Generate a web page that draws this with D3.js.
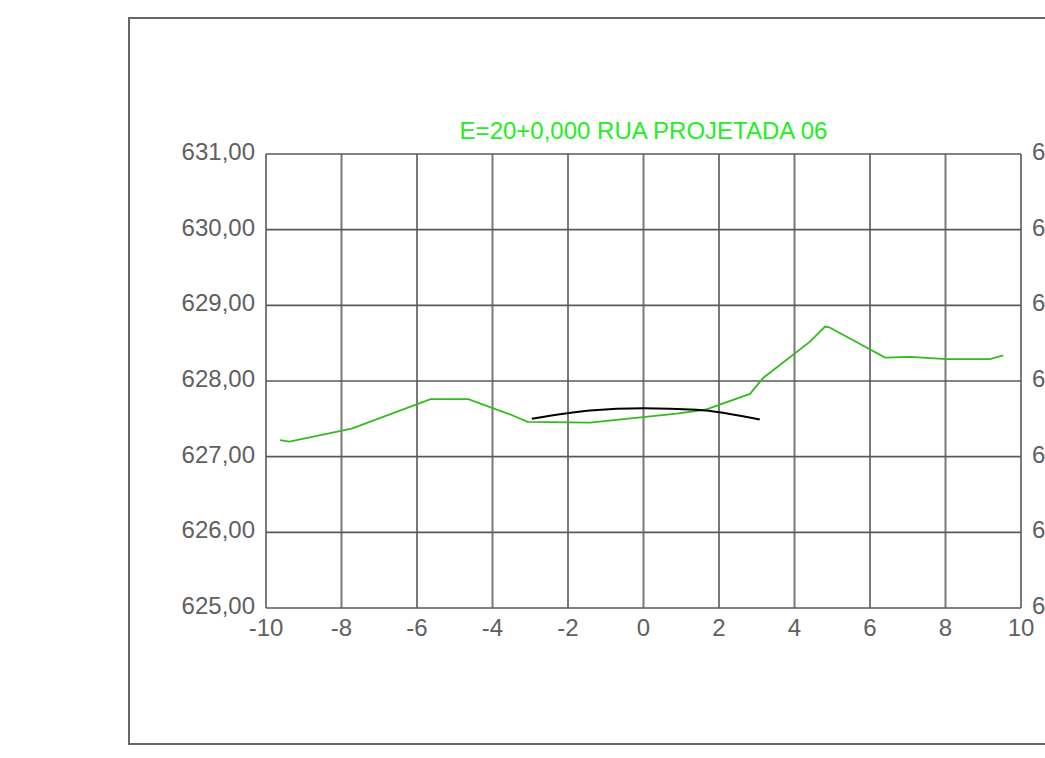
<!DOCTYPE html>
<html>
<head>
<meta charset="utf-8">
<script src="https://cdn.jsdelivr.net/npm/d3@7"></script>
<style>
  body { margin: 0; background: #fff; }
  text { font-family: 'Liberation Sans', Arial, sans-serif; }
</style>
</head>
<body>
<div id="chart"></div>
<script>
// section profile data
const title = 'E=20+0,000 RUA PROJETADA 06'
const xTicks = [-10, -8, -6, -4, -2, 0, 2, 4, 6, 8, 10]
const yTicks = [625, 626, 627, 628, 629, 630, 631]

// terrain (green)
const terrainX = [-9.63, -9.38, -7.73, -5.64, -4.64, -3.54, -3.07, -1.42, 0.88, 1.63, 2.82, 3.17, 4.41, 4.81, 4.92, 6.40, 7.06, 8.03, 9.18, 9.53]
const terrainY = [627.22, 627.20, 627.37, 627.76, 627.76, 627.56, 627.46, 627.45, 627.57, 627.62, 627.83, 628.04, 628.52, 628.72, 628.71, 628.31, 628.32, 628.29, 628.29, 628.34]

// road section (black)
const roadX = [-2.96, -1.42, 0, 1.41, 3.08]
const roadY = [627.50, 627.61, 627.64, 627.62, 627.49]

const W = 1045, H = 758
const svg = d3.select('#chart').append('svg')
  .attr('width', W).attr('height', H)

// outer frame
svg.append('rect')
  .attr('x', 129).attr('y', 18)
  .attr('width', 1000).attr('height', 726)
  .attr('fill', 'none').attr('stroke', '#666').attr('stroke-width', 2)

const x = d3.scaleLinear().domain([-10, 10]).range([266, 1021])
const y = d3.scaleLinear().domain([625, 631]).range([608, 154])

const fmt = d => d.toFixed(2).replace('.', ',')

// vertical grid
svg.selectAll('.vgrid')
  .data(xTicks)
  .enter()
  .append('line')
  .attr('class', 'vgrid')
  .attr('x1', d => x(d)).attr('x2', d => x(d))
  .attr('y1', y(631)).attr('y2', y(625))
  .attr('stroke', '#7a7a7a').attr('stroke-width', 2)

// horizontal grid
svg.selectAll('.hgrid')
  .data(yTicks)
  .enter()
  .append('line')
  .attr('class', 'hgrid')
  .attr('x1', x(-10)).attr('x2', x(10))
  .attr('y1', d => y(d)).attr('y2', d => y(d))
  .attr('stroke', '#5a5a5a').attr('stroke-width', 1.6)

// y labels left
svg.selectAll('.ylab')
  .data(yTicks)
  .enter()
  .append('text')
  .attr('class', 'ylab')
  .attr('x', x(-10) - 11)
  .attr('y', d => y(d) + 6)
  .attr('text-anchor', 'end')
  .style('font-size', '24px')
  .attr('fill', '#606060')
  .text(fmt)

// y labels right (cut off by the window, as in the original)
svg.selectAll('.ylabr')
  .data(yTicks)
  .enter()
  .append('text')
  .attr('class', 'ylabr')
  .attr('x', x(10) + 11)
  .attr('y', d => y(d) + 6)
  .attr('text-anchor', 'start')
  .style('font-size', '24px')
  .attr('fill', '#606060')
  .text(fmt)

// x labels
svg.selectAll('.xlab')
  .data(xTicks)
  .enter()
  .append('text')
  .attr('class', 'xlab')
  .attr('x', d => x(d))
  .attr('y', y(625) + 28)
  .attr('text-anchor', 'middle')
  .style('font-size', '24px')
  .attr('fill', '#606060')
  .text(d => d)

// title
svg.append('text')
  .attr('x', x(0))
  .attr('y', 139)
  .attr('text-anchor', 'middle')
  .style('font-size', '24px')
  .attr('fill', '#22ee22')
  .text(title)

const terrain = terrainX.map((d, i) => [d, terrainY[i]])
const road = roadX.map((d, i) => [d, roadY[i]])

svg.append('path')
  .datum(terrain)
  .attr('d', d3.line().x(d => x(d[0])).y(d => y(d[1])))
  .attr('fill', 'none')
  .attr('stroke', '#33bb1e')
  .attr('stroke-width', 1.8)

svg.append('path')
  .datum(road)
  .attr('d', d3.line().curve(d3.curveMonotoneX).x(d => x(d[0])).y(d => y(d[1])))
  .attr('fill', 'none')
  .attr('stroke', '#000')
  .attr('stroke-width', 2)
</script>
</body>
</html>
